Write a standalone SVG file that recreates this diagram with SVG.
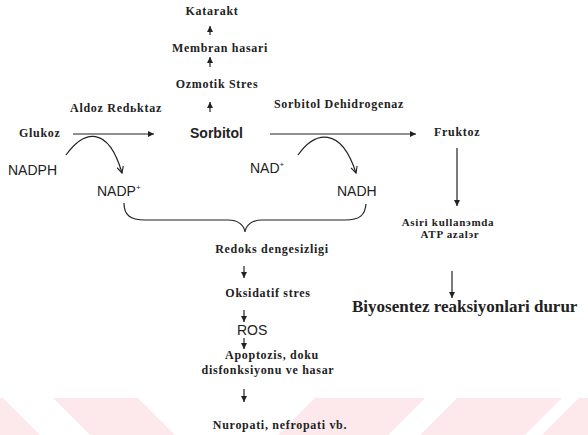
<svg xmlns="http://www.w3.org/2000/svg" width="588" height="435" viewBox="0 0 588 435">
<style>
.s{font-family:"Liberation Serif","Times New Roman",serif;font-weight:bold;font-size:12px;letter-spacing:0.7px;fill:#222}
.a{font-family:"Liberation Sans",Arial,sans-serif;font-size:14px;fill:#222}
.c{text-anchor:middle}
.ln{stroke:#222;stroke-width:1.2;fill:none}
.wm{fill:#fde9ec}
</style>
<defs>
<marker id="ah" viewBox="0 0 10 10" refX="10" refY="5" markerWidth="7" markerHeight="6" markerUnits="userSpaceOnUse" orient="auto"><path d="M0,0 L10,5 L0,10 z" fill="#222"/></marker>
<marker id="oh" viewBox="0 0 10 10" refX="9" refY="5" markerWidth="8" markerHeight="8" markerUnits="userSpaceOnUse" orient="auto"><path d="M1,1 L9,5 L1,9" fill="none" stroke="#222" stroke-width="1.4"/></marker>
</defs>
<rect width="588" height="435" fill="#fff"/>
<g id="watermark">
<polygon class="wm" points="0,398 3,398 40,435 0,435"/>
<polygon class="wm" points="53,398 138,398 175,435 90,435"/>
<polygon class="wm" points="315,398 425,398 388,435 278,435"/>
<polygon class="wm" points="457,398 562,398 525,435 420,435"/>
<polygon class="wm" points="579,398 588,398 588,435 542,435"/>
</g>
<g id="connectors">
<line class="ln" x1="210" y1="35" x2="210" y2="26" marker-end="url(#ah)"/>
<line class="ln" x1="210" y1="67" x2="210" y2="57" marker-end="url(#ah)"/>
<line class="ln" x1="210" y1="112" x2="210" y2="102" marker-end="url(#ah)"/>
<line class="ln" x1="73" y1="134" x2="154" y2="134" marker-end="url(#ah)"/>
<line class="ln" x1="270" y1="134" x2="416" y2="134" marker-end="url(#ah)"/>
<path class="ln" d="M66 155 C84 130,108 125,122 173" marker-end="url(#oh)"/>
<path class="ln" d="M298 155 C315 131,341 126,356 173" marker-end="url(#oh)"/>
<line class="ln" x1="457" y1="148" x2="457" y2="206" marker-end="url(#ah)"/>
<line class="ln" x1="452" y1="271" x2="452" y2="298" marker-end="url(#ah)"/>
<path class="ln" d="M124 203 C124 215,130 220,145 220 L228 220 C238 220,244 225,245 232 C246 225,252 220,262 220 L345 220 C360 220,365 215,366 204"/>
<line class="ln" x1="244" y1="266" x2="244" y2="278" marker-end="url(#ah)"/>
<line class="ln" x1="244" y1="310" x2="244" y2="322" marker-end="url(#ah)"/>
<line class="ln" x1="244" y1="338" x2="244" y2="349" marker-end="url(#ah)"/>
<line class="ln" x1="244" y1="389" x2="244" y2="402" marker-end="url(#ah)"/>
</g>
<g id="katarakt"><text class="s c" x="212" y="15">Katarakt</text></g>
<g id="membran"><text class="s c" x="220" y="52">Membran hasari</text></g>
<g id="ozmotik"><text class="s c" x="217" y="88">Ozmotik Stres</text></g>
<g id="aldoz"><text class="s c" x="116" y="112">Aldoz Redьktaz</text></g>
<g id="sdh"><text class="s c" x="339" y="108">Sorbitol Dehidrogenaz</text></g>
<g id="glukoz"><text class="s" x="19" y="137">Glukoz</text></g>
<g id="sorbitol"><text class="a" x="190" y="138" style="font-weight:bold">Sorbitol</text></g>
<g id="fruktoz"><text class="s" x="434" y="136">Fruktoz</text></g>
<g id="nadph"><text class="a" x="8" y="175">NADPH</text></g>
<g id="nadp"><text class="a" x="97" y="196">NADP<tspan style="font-size:8px" dy="-6">+</tspan></text></g>
<g id="nad"><text class="a" x="250" y="173">NAD<tspan style="font-size:8px" dy="-6">+</tspan></text></g>
<g id="nadh"><text class="a" x="337" y="196">NADH</text></g>
<g id="atp"><text class="s c" x="448" y="226" style="font-size:11px">Asiri kullanэmda</text><text class="s c" x="450" y="238" style="font-size:11px">ATP azalэr</text></g>
<g id="biyosentez"><text class="s" x="352" y="312" style="font-size:17px;letter-spacing:0px">Biyosentez reaksiyonlari durur</text></g>
<g id="redoks"><text class="s c" x="272" y="253">Redoks dengesizligi</text></g>
<g id="oksidatif"><text class="s c" x="268" y="297">Oksidatif stres</text></g>
<g id="ros"><text class="a" x="237" y="335">ROS</text></g>
<g id="apoptozis"><text class="s c" x="272" y="359">Apoptozis, doku</text><text class="s c" x="268" y="374">disfonksiyonu ve hasar</text></g>
<g id="nuropati"><text class="s c" x="280" y="429">Nuropati, nefropati vb.</text></g>
</svg>
